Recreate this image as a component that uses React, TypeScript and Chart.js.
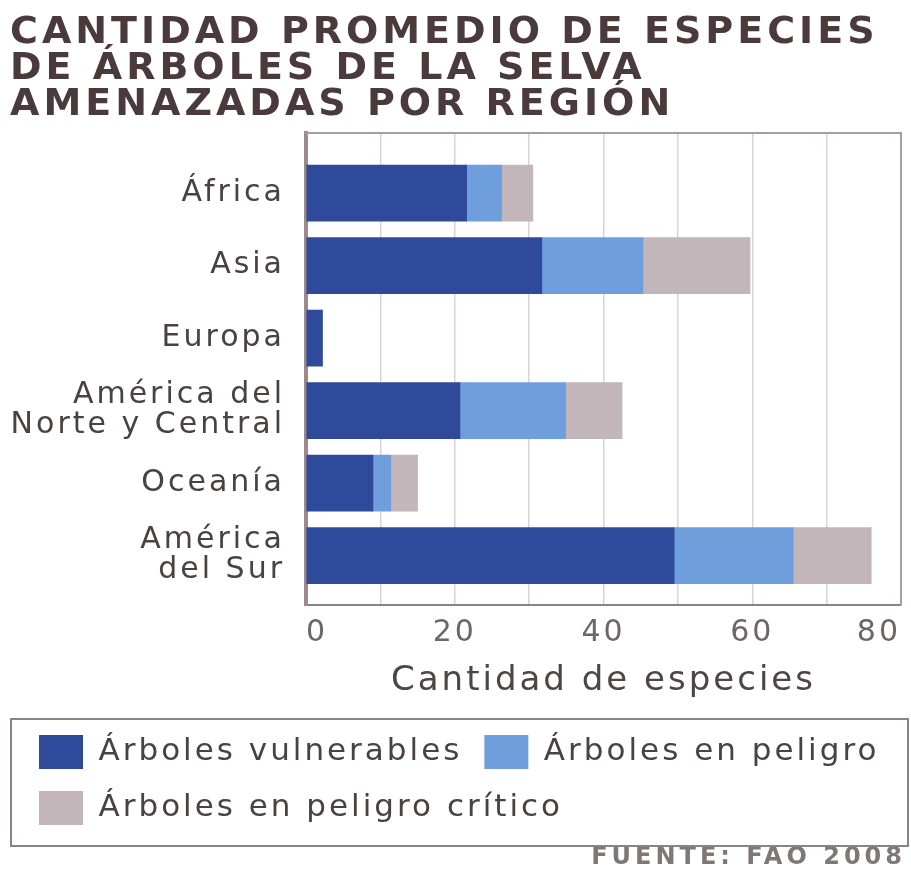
import React, { useEffect, useRef } from 'react';
import { Chart, registerables } from 'chart.js';

Chart.register(...registerables);

const titleLines = ['CANTIDAD PROMEDIO DE ESPECIES', 'DE ÁRBOLES DE LA SELVA', 'AMENAZADAS POR REGIÓN'];
const regions: string[][] = [
  ['África'],
  ['Asia'],
  ['Europa'],
  ['América del', 'Norte y Central'],
  ['Oceanía'],
  ['América', 'del Sur'],
];
const seriesNames = ['Árboles vulnerables', 'Árboles en peligro', 'Árboles en peligro crítico'];
const vulnerables = [21.6, 31.7, 2.2, 20.7, 9, 49.5];
const enPeligro = [4.7, 13.6, 0, 14.2, 2.4, 16];
const criticos = [4.2, 14.4, 0, 7.6, 3.6, 10.5];
const xTickLabels = [0, 20, 40, 60, 80];
const xTitle = 'Cantidad de especies';
const sourceText = 'FUENTE: FAO 2008';

const FONT = "'DejaVu Sans', sans-serif";

function patchSpacing(box: any, px: string) {
  if (!box || box.__spacingPatched) return;
  const orig = box.draw.bind(box);
  box.draw = (...args: any[]) => {
    const ctx = box.ctx;
    const prev = ctx.letterSpacing;
    ctx.letterSpacing = px;
    orig(...args);
    ctx.letterSpacing = prev;
  };
  box.__spacingPatched = true;
}

const spacingPlugin = {
  id: 'letterSpacing',
  beforeUpdate(c: any) { c.ctx.letterSpacing = '3px'; },
  beforeLayout(c: any) { c.ctx.letterSpacing = '3px'; },
  afterLayout(c: any) {
    if (c.legend) {
      c.legend.left += 7;
      c.legend.right += 7;
    }
  },
  beforeDraw(c: any) {
    c.ctx.letterSpacing = '3px';
    for (const box of c.boxes) {
      const t = box && box.options && box.options.text;
      if (t === titleLines) patchSpacing(box, '4px');
      else if (t === sourceText) patchSpacing(box, '4px');
    }
  },
};

const framePlugin = {
  id: 'frameAndLegendBox',
  afterDraw(c: any) {
    const { ctx, chartArea: a } = c;
    ctx.save();
    ctx.strokeStyle = '#a89c9e';
    ctx.lineWidth = 2;
    ctx.beginPath();
    ctx.moveTo(a.left, a.top);
    ctx.lineTo(a.right, a.top);
    ctx.lineTo(a.right, a.bottom);
    ctx.stroke();
    const lg = c.legend;
    if (lg) {
      ctx.strokeStyle = '#8a8283';
      ctx.lineWidth = 2;
      ctx.strokeRect(11, lg.top + 6, c.width - 14, lg.height + 5);
    }
    ctx.restore();
  },
};

export default function App() {
  const ref = useRef<HTMLCanvasElement | null>(null);

  useEffect(() => {
    if (!ref.current) return;
    const mk = (arr: number[]) => arr.map((v, i) => ({ x: v, y: i }));
    const chart = new Chart(ref.current, {
      type: 'bar',
      data: {
        datasets: [
          { label: seriesNames[0], data: mk(vulnerables), backgroundColor: '#2f4a9b', borderWidth: 0 },
          { label: seriesNames[1], data: mk(enPeligro), backgroundColor: '#6e9fdc', borderWidth: 0 },
          { label: seriesNames[2], data: mk(criticos), backgroundColor: '#c2b6ba', borderWidth: 0 },
        ] as any,
      },
      plugins: [spacingPlugin, framePlugin],
      options: {
        indexAxis: 'y',
        animation: false,
        responsive: false,
        devicePixelRatio: 1,
        layout: { padding: { left: 10, right: 5, top: 0, bottom: 0 } },
        datasets: { bar: { barThickness: 56 } },
        scales: {
          x: {
            type: 'linear',
            stacked: true,
            min: 0,
            max: 80,
            grid: { color: '#dcd2d4', lineWidth: 1.5, drawTicks: false },
            border: { display: true, color: '#8c8184', width: 2 },
            afterFit: (axis: any) => {
              axis.height = 108;
            },
            ticks: {
              stepSize: 10,
              align: 'inner',
              padding: 10,
              color: '#6d6566',
              font: { family: FONT, size: 30 },
              callback: (v: any) => (xTickLabels.includes(Number(v)) ? String(v) : ''),
            },
            title: {
              display: true,
              text: xTitle,
              color: '#4d4546',
              font: { family: FONT, size: 34 },
              padding: { top: 6, bottom: 11 },
            },
          },
          y: {
            type: 'linear',
            stacked: true,
            reverse: true,
            offset: false,
            min: -0.83,
            max: 5.68,
            grid: { display: false },
            border: { display: true, color: '#9c8a8c', width: 4 },
            afterBuildTicks: (axis: any) => {
              axis.ticks = regions.map((_, i) => ({ value: i }));
            },
            afterFit: (axis: any) => {
              axis.width = 296;
            },
            ticks: {
              padding: 13,
              color: '#4a4242',
              font: { family: FONT, size: 30, lineHeight: 1.0 },
              callback: (v: any) => regions[Number(v)] ?? '',
            },
          },
        },
        plugins: {
          tooltip: { enabled: false },
          title: {
            display: true,
            text: titleLines,
            align: 'start',
            color: '#4a3a3b',
            font: { family: FONT, size: 38, weight: 'bold', lineHeight: 36 / 38 },
            padding: { top: 15, bottom: 10 },
          },
          subtitle: {
            display: true,
            text: sourceText,
            position: 'bottom',
            align: 'end',
            color: '#7f7878',
            font: { family: FONT, size: 24, weight: 'bold', lineHeight: 1 },
            padding: { top: 11, bottom: 0 },
          },
          legend: {
            display: true,
            position: 'bottom',
            align: 'start',
            labels: {
              boxWidth: 44,
              boxHeight: 34,
              padding: 22,
              color: '#4a4242',
              font: { family: FONT, size: 31 },
            },
          },
        },
      } as any,
    });
    return () => chart.destroy();
  }, []);

  return (
    <div style={{ position: 'fixed', left: 0, top: 0, width: 911, height: 870, background: '#ffffff' }}>
      <canvas ref={ref} width={911} height={870} style={{ width: 911, height: 870, display: 'block' }} />
    </div>
  );
}
